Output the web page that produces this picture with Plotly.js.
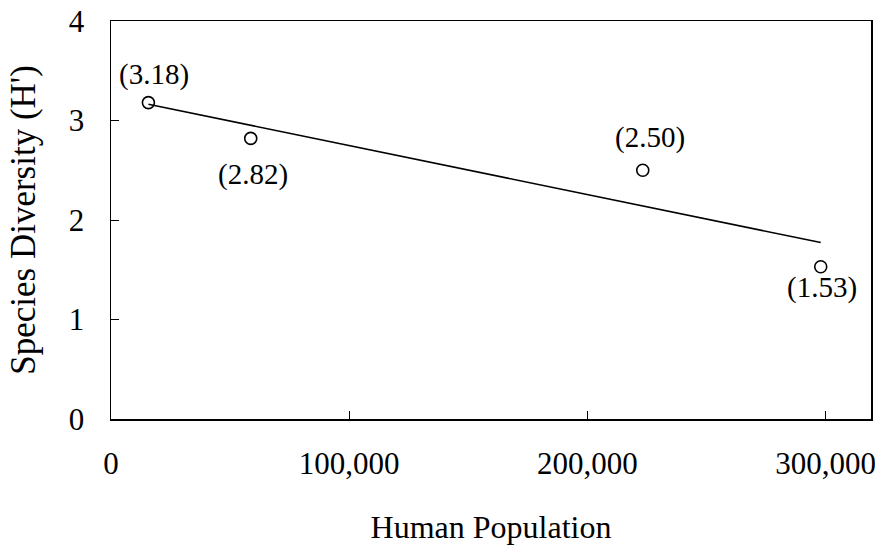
<!DOCTYPE html>
<html>
<head>
<meta charset="utf-8">
<script src="https://cdn.plot.ly/plotly-3.0.1.min.js"></script>
<style>html,body{margin:0;padding:0;background:#fff;}#chart{width:875px;height:546px;}</style>
</head>
<body>
<div id="chart"></div>
<script>
// Data
const population = [15700, 58650, 223200, 297900];
const diversity = [3.18, 2.82, 2.50, 1.53];
const xTickVals = [0, 100000, 200000, 300000];
const yTickVals = [0, 1, 2, 3, 4];

// Label placement (style)
const labelXShift = [6, 2, 7, 1];
const labelYShift = [28, -36, 33, -21];

// Least-squares trend line computed from the data
const n = population.length;
const mx = population.reduce((a, b) => a + b, 0) / n;
const my = diversity.reduce((a, b) => a + b, 0) / n;
let sxy = 0, sxx = 0;
for (let i = 0; i < n; i++) {
  sxy += (population[i] - mx) * (diversity[i] - my);
  sxx += (population[i] - mx) * (population[i] - mx);
}
const slope = sxy / sxx;
const intercept = my - slope * mx;
const xMin = Math.min(...population), xMax = Math.max(...population);
const trendX = [xMin, xMax];
const trendY = trendX.map(x => intercept + slope * x);

const font = 'Liberation Serif, Times New Roman, serif';

const traces = [
  {
    x: trendX, y: trendY, type: 'scatter', mode: 'lines',
    line: {color: '#000', width: 1.5}, hoverinfo: 'skip', showlegend: false
  },
  {
    x: population, y: diversity, type: 'scatter', mode: 'markers',
    marker: {symbol: 'circle-open', size: 12, color: '#000', line: {width: 1.6, color: '#000'}},
    showlegend: false
  }
];

const annotations = population.map((x, i) => ({
  x: x, y: diversity[i], xref: 'x', yref: 'y',
  text: '(' + diversity[i].toFixed(2) + ')',
  showarrow: false, xshift: labelXShift[i], yshift: labelYShift[i],
  font: {family: font, size: 29, color: '#000'}
}));

const layout = {
  width: 875, height: 546,
  margin: {l: 111, r: 4, t: 21, b: 127},
  paper_bgcolor: '#fff', plot_bgcolor: '#fff',
  font: {family: font, color: '#000', size: 30},
  showlegend: false,
  xaxis: {
    range: [0, 319000], tickvals: xTickVals, tickformat: ',d',
    ticks: 'inside', ticklen: 8, tickwidth: 1, tickcolor: '#000',
    showline: true, linecolor: '#000', linewidth: 1.5, mirror: true,
    showgrid: false, zeroline: false,
    ticklabelstandoff: 16, ticklabeloverflow: 'allow',
    tickfont: {family: font, size: 31, color: '#000'},
    title: {text: 'Human Population', font: {family: font, size: 32, color: '#000'}, standoff: 36}
  },
  yaxis: {
    range: [0, 4], tickvals: yTickVals,
    ticks: 'inside', ticklen: 8, tickwidth: 1, tickcolor: '#000',
    showline: true, linecolor: '#000', linewidth: 1.5, mirror: true,
    showgrid: false, zeroline: false,
    ticklabelstandoff: 19, ticklabeloverflow: 'allow',
    tickfont: {family: font, size: 31, color: '#000'},
    title: {text: "Species Diversity (H')", font: {family: font, size: 35, color: '#000'}, standoff: 22}
  },
  annotations: annotations
};

Plotly.newPlot('chart', traces, layout, {displayModeBar: false, staticPlot: true});
</script>
</body>
</html>
